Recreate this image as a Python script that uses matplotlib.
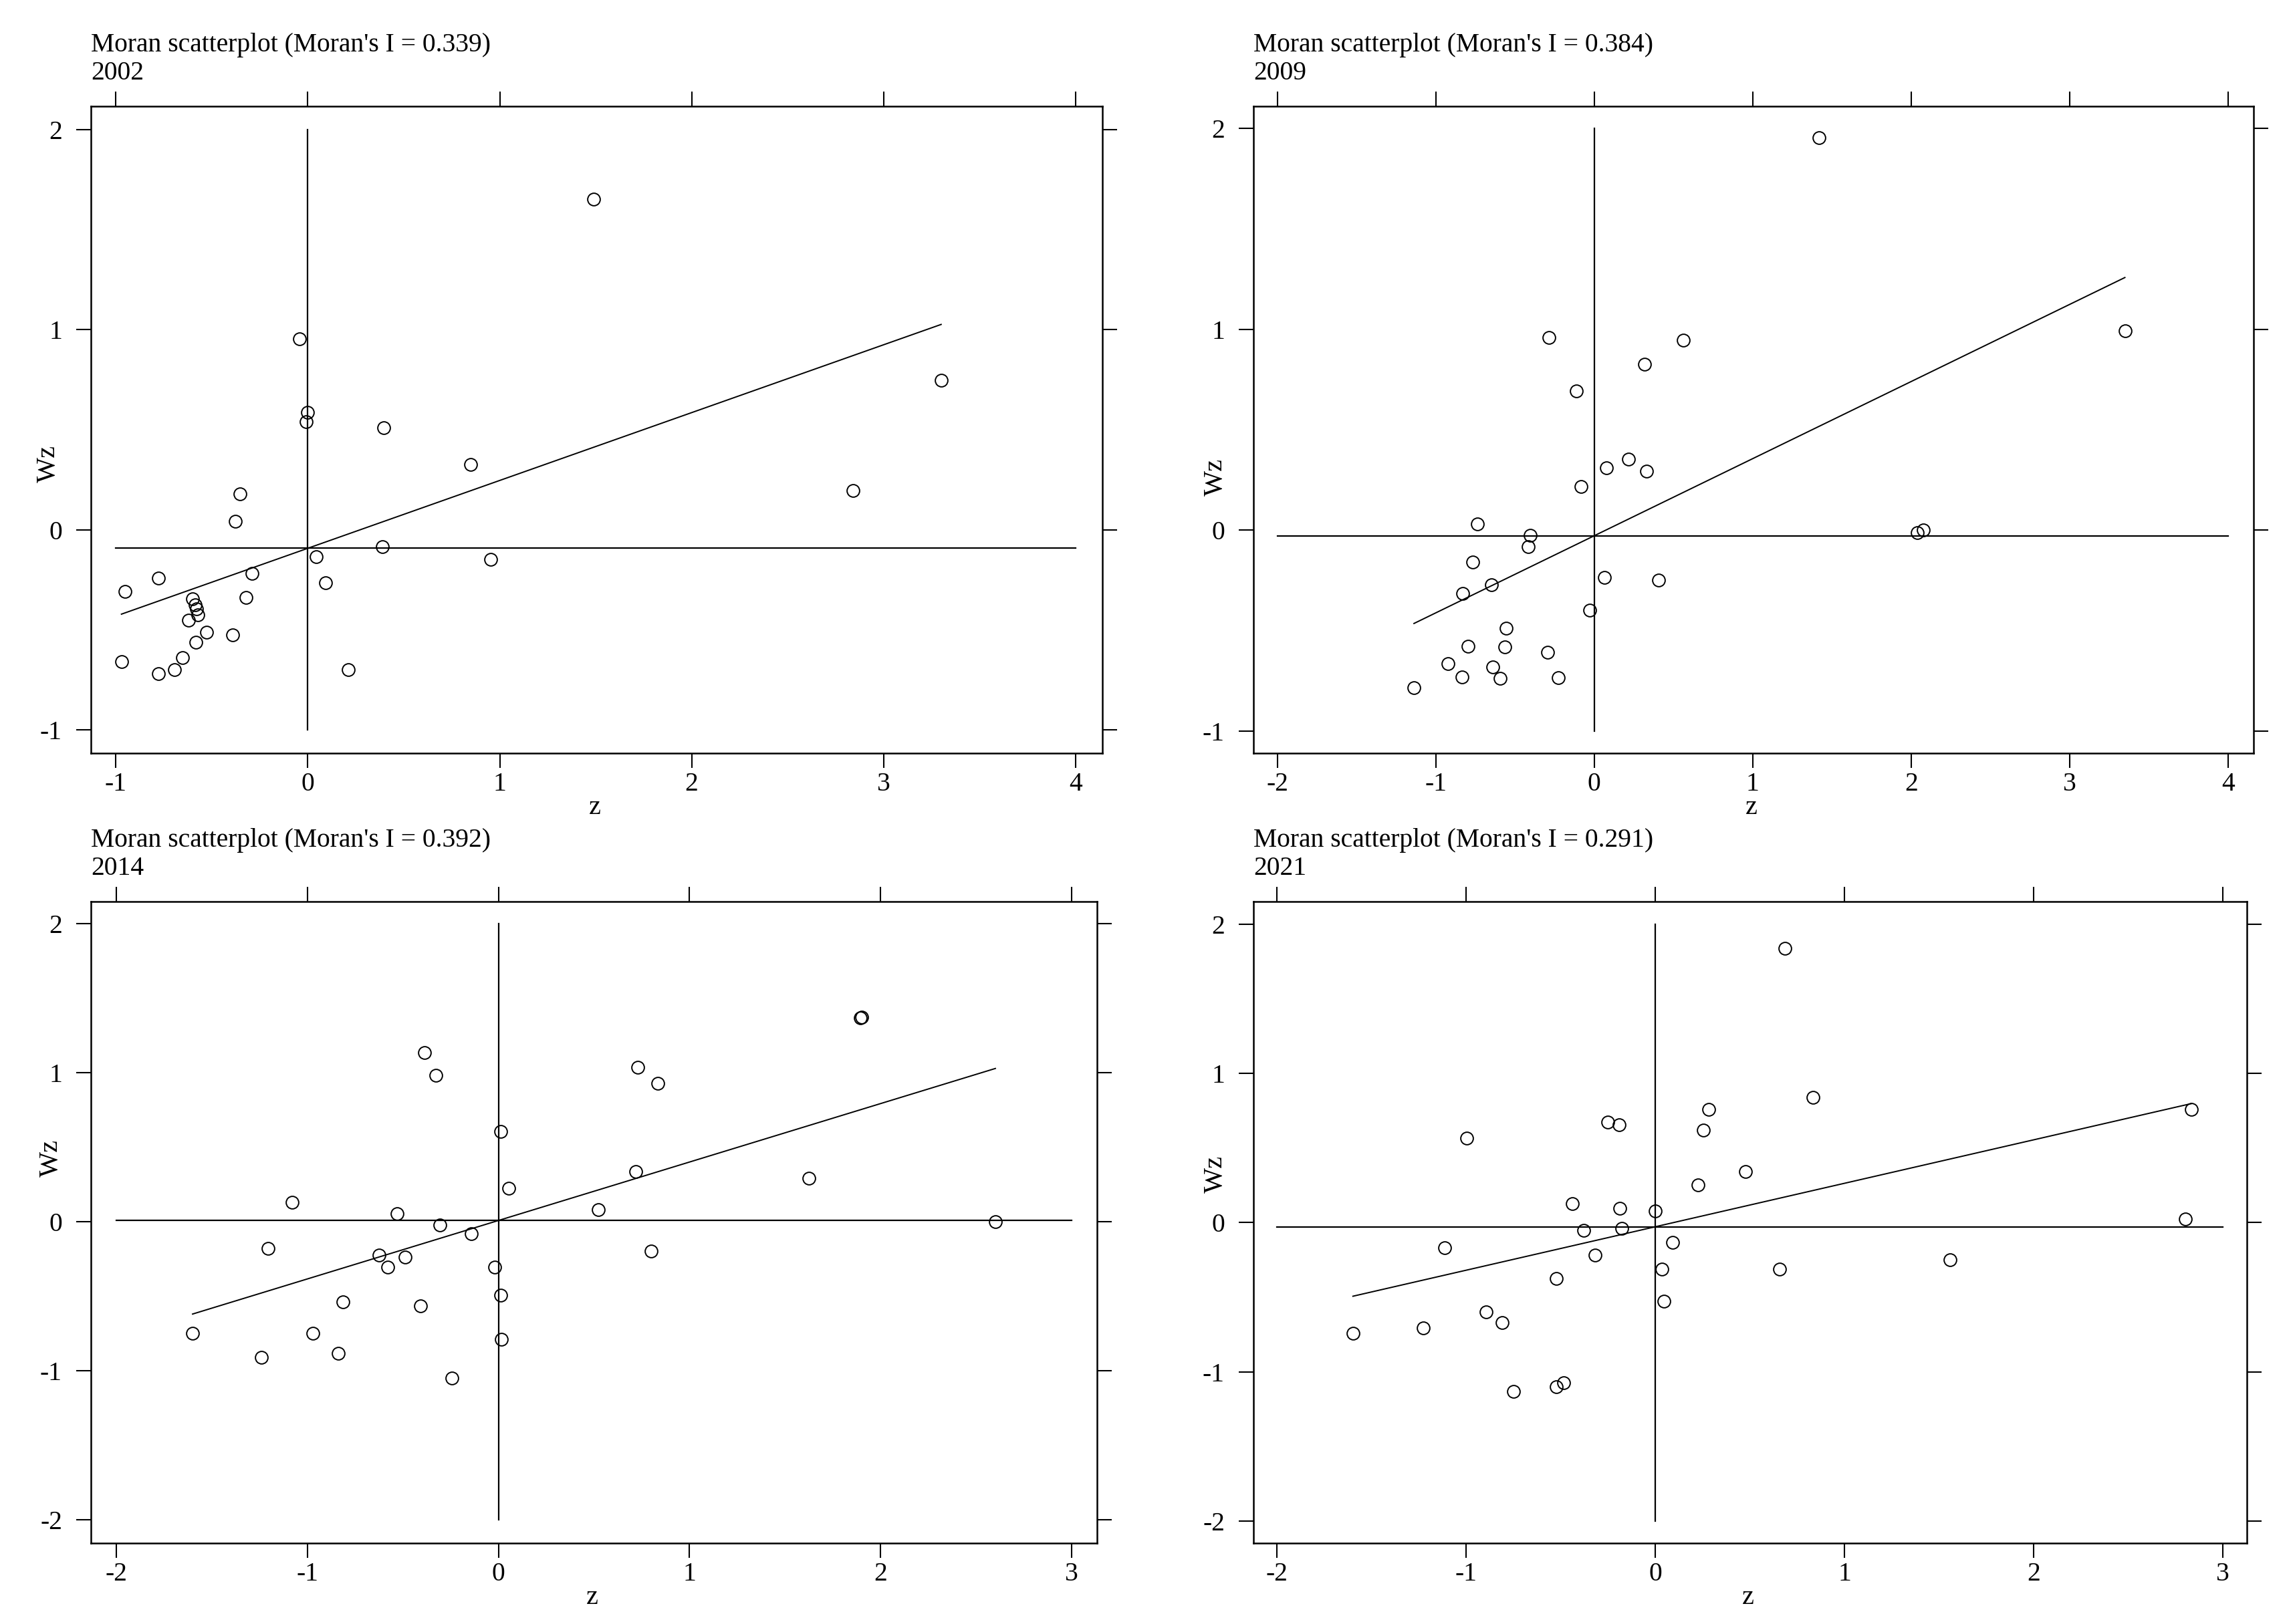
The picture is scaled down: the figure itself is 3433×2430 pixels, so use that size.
import matplotlib
matplotlib.use('Agg')
import matplotlib.pyplot as plt
import numpy as np

plt.rcParams['font.family'] = ['Liberation Serif', 'DejaVu Serif']
plt.rcParams['axes.unicode_minus'] = False

# ---------------- data ----------------
years = ["2002", "2009", "2014", "2021"]
moran_I = [0.339, 0.384, 0.392, 0.291]
z_mean = [0.0, 0.0, 0.0, 0.0]
wz_mean = [-0.092, -0.028, 0.007, -0.028]

z_2002 = [1.49, -0.045, 3.30, 0.0, -0.008, 0.397, 0.847, -0.355, 2.842, -0.378,
          0.389, 0.045, 0.952, -0.291, -0.779, 0.091, -0.952, -0.321, -0.600, -0.588,
          -0.580, -0.571, -0.623, -0.529, -0.393, -0.582, -0.654, -0.971, -0.695, -0.779,
          0.212]
wz_2002 = [1.653, 0.954, 0.747, 0.587, 0.541, 0.510, 0.327, 0.179, 0.196, 0.043,
           -0.084, -0.133, -0.148, -0.217, -0.242, -0.263, -0.309, -0.339, -0.345, -0.373,
           -0.394, -0.423, -0.451, -0.510, -0.526, -0.561, -0.640, -0.658, -0.699, -0.719,
           -0.699]

z_2009 = [1.417, -0.284, 0.560, 3.349, 0.317, -0.115, 0.216, 0.078, 0.330, -0.083,
          -0.739, -0.404, 2.037, 2.078, -0.417, -0.766, 0.064, 0.404, -0.647, -0.830,
          -0.028, -0.555, -0.798, -0.564, -0.294, -0.922, -0.642, -0.835, -0.592, -0.229,
          -1.138]
wz_2009 = [1.956, 0.960, 0.947, 0.991, 0.827, 0.694, 0.352, 0.309, 0.294, 0.217,
           0.031, -0.026, -0.013, 0.0, -0.084, -0.158, -0.235, -0.250, -0.273, -0.314,
           -0.398, -0.488, -0.577, -0.582, -0.610, -0.664, -0.682, -0.730, -0.738, -0.735,
           -0.784]

z_2014 = [1.894, 1.900, -0.388, -0.327, 0.730, 0.833, 0.011, 0.719, 1.624, 0.053,
          -1.080, -0.529, 0.521, 2.601, -0.308, -0.141, -1.205, 0.798, -0.624, -0.490,
          -0.578, -0.019, -0.814, -0.407, 0.011, -1.601, -0.973, 0.015, -0.840, -1.240,
          -0.243]
wz_2014 = [1.365, 1.370, 1.135, 0.980, 1.035, 0.929, 0.605, 0.334, 0.289, 0.224,
           0.127, 0.052, 0.079, 0.0, -0.024, -0.083, -0.182, -0.196, -0.227, -0.237,
           -0.306, -0.306, -0.540, -0.567, -0.495, -0.750, -0.750, -0.791, -0.884, -0.911,
           -1.052]

z_2021 = [0.684, 0.834, 0.284, 2.836, -0.250, -0.192, -0.999, 0.254, 0.477, 0.227,
          -0.438, -0.188, 0.0, 2.802, -0.380, -0.177, -1.115, 0.092, -0.319, 1.560,
          0.035, 0.657, -0.523, 0.046, -0.895, -0.811, -1.226, -1.599, -0.484, -0.523,
          -0.749]
wz_2021 = [1.836, 0.839, 0.759, 0.759, 0.673, 0.656, 0.566, 0.618, 0.342, 0.252,
           0.128, 0.097, 0.079, 0.024, -0.052, -0.041, -0.169, -0.131, -0.217, -0.248,
           -0.314, -0.311, -0.373, -0.525, -0.597, -0.670, -0.704, -0.742, -1.073, -1.101,
           -1.129]

xticks_list = [[-1, 0, 1, 2, 3, 4], [-2, -1, 0, 1, 2, 3, 4], [-2, -1, 0, 1, 2, 3], [-2, -1, 0, 1, 2, 3]]
yticks_list = [[-1, 0, 1, 2], [-1, 0, 1, 2], [-2, -1, 0, 1, 2], [-2, -1, 0, 1, 2]]

zs = [z_2002, z_2009, z_2014, z_2021]
wzs = [wz_2002, wz_2009, wz_2014, wz_2021]

# ---------------- layout ----------------
W, H = 3433, 2430
fig = plt.figure(figsize=(W / 100, H / 100), dpi=100)
fig.patch.set_facecolor('white')

boxes = [(136, 1649, 159, 1127), (1875, 3371, 159, 1127),
         (136, 1641, 1349, 2309), (1875, 3361, 1349, 2309)]
xlims = [(-1.13, 4.14), (-2.151, 4.161), (-2.133, 3.133), (-2.125, 3.128)]
ylims = [(-1.116, 2.117), (-1.111, 2.111), (-2.157, 2.146), (-2.147, 2.15)]
wz_label_y = [0.447, 0.427, 0.60, 0.575]
wz_label_dx = [-64, -57, -60, -57]

for i in range(4):
    l, r, t, b = boxes[i]
    ax = fig.add_axes([l / W, 1 - b / H, (r - l) / W, (b - t) / H])
    z = np.array(zs[i])
    wz = np.array(wzs[i])
    xt = xticks_list[i]
    yt = yticks_list[i]

    ax.plot(z, wz, 'o', mfc='none', mec='black', ms=13.5, mew=1.4, zorder=3)
    ax.plot([xt[0], xt[-1]], [wz_mean[i], wz_mean[i]], color='black', lw=1.6)
    ax.plot([z_mean[i], z_mean[i]], [yt[0], yt[-1]], color='black', lw=1.6)
    xs = np.array([z.min(), z.max()])
    ax.plot(xs, wz_mean[i] + moran_I[i] * (xs - z_mean[i]), color='black', lw=1.4)

    ax.set_xlim(*xlims[i])
    ax.set_ylim(*ylims[i])
    ax.set_xticks(xt)
    ax.set_xticklabels([str(v) for v in xt])
    ax.set_yticks(yt)
    ax.set_yticklabels([str(v) for v in yt])
    ax.tick_params(direction='out', length=16, width=1.5, top=True, right=True,
                   labeltop=False, labelright=False, labelsize=28.5, colors='black')
    ax.tick_params(axis='x', pad=4)
    ax.tick_params(axis='y', pad=15)
    for s in ax.spines.values():
        s.set_linewidth(1.8)

    w_ax = r - l
    h_ax = b - t
    ax.text(0.498, -91 / h_ax, 'z', transform=ax.transAxes, ha='center',
            va='baseline', fontsize=29)
    ax.text(wz_label_dx[i] / w_ax, wz_label_y[i], 'Wz', transform=ax.transAxes,
            ha='center', va='center', rotation=90, fontsize=29)

    fig.text(l / W, 1 - (t - 82) / H, "Moran scatterplot (Moran's I = %.3f)" % moran_I[i],
             ha='left', va='baseline', fontsize=28.5)
    fig.text(l / W, 1 - (t - 40) / H, years[i], ha='left', va='baseline', fontsize=28.5)

fig.savefig('out.png', dpi=100, facecolor='white')
